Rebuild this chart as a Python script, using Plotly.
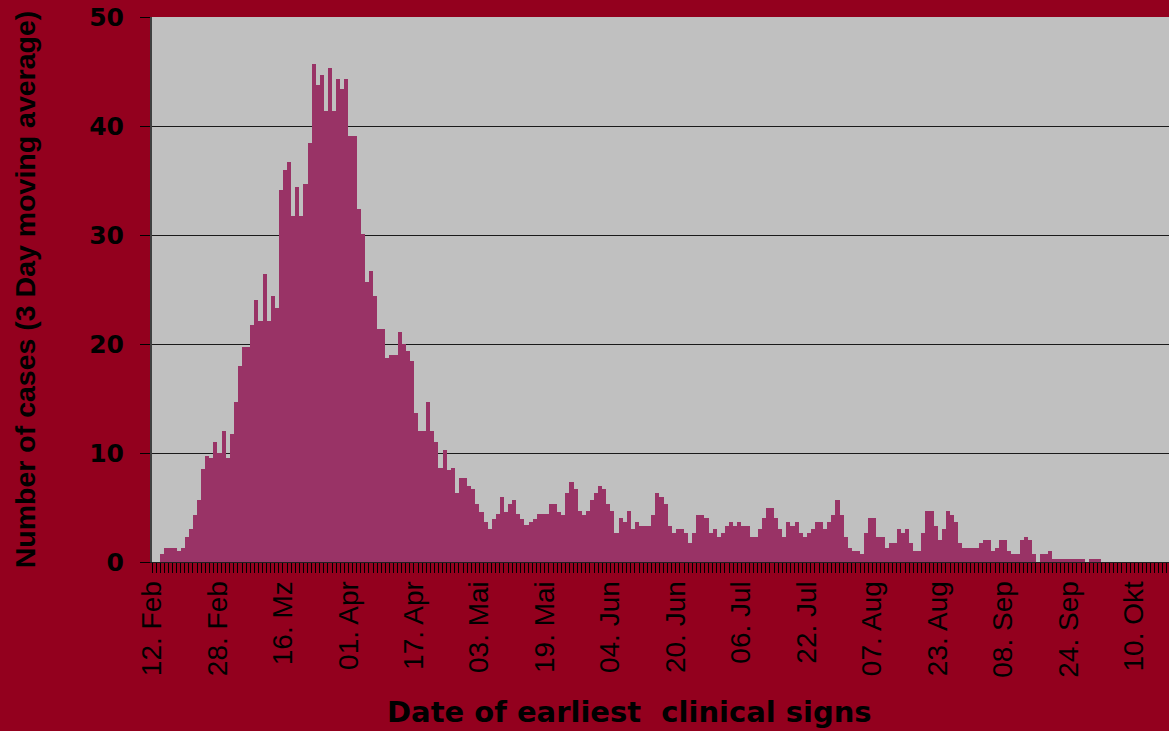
import pandas as pd
import plotly.graph_objects as go

# 3-day moving average of daily cases, one value per day starting 12 Feb 2001
feb = [0, 0, 0.7, 1.3, 1.3, 1.3, 1.0, 1.3, 2.3, 3.0, 4.3, 5.7, 8.5, 9.7, 9.5, 11.0, 10.0]
mar = [12.0, 9.5, 11.7, 14.7, 18.0, 19.7, 19.7, 21.7, 24.0, 22.1, 26.4, 22.1, 24.4, 23.3, 34.1, 36.0,
       36.7, 31.7, 34.4, 31.7, 34.7, 38.4, 45.7, 43.8, 44.7, 41.4, 45.3, 41.4, 44.3, 43.4, 44.3]
apr = [39.1, 39.1, 32.4, 30.1, 25.7, 26.7, 24.4, 21.4, 21.4, 18.7, 19.0, 19.0, 21.1, 20.0, 19.4,
       18.4, 13.7, 12.0, 12.0, 14.7, 12.0, 11.0, 8.6, 10.3, 8.4, 8.6, 6.3, 7.7, 7.7, 7.0]
may = [6.7, 5.3, 4.6, 3.7, 3.0, 3.9, 4.4, 6.0, 4.6, 5.3, 5.7, 4.4, 3.9, 3.4, 3.7, 3.9, 4.4, 4.4,
       4.4, 5.3, 5.3, 4.6, 4.3, 6.3, 7.3, 6.7, 4.7, 4.3, 4.7, 5.7, 6.3]
jun = [7.0, 6.7, 5.3, 4.7, 2.7, 4.0, 3.7, 4.7, 3.0, 3.7, 3.3, 3.3, 3.3, 4.3, 6.3, 6.0, 5.3, 3.3,
       2.7, 3.0, 3.0, 2.7, 1.7, 2.7, 4.3, 4.3, 4.0, 2.7, 3.0, 2.3]
jul = [2.7, 3.3, 3.7, 3.3, 3.7, 3.3, 3.3, 2.3, 2.3, 3.0, 4.0, 5.0, 5.0, 4.0, 3.0, 2.3, 3.7, 3.3,
       3.7, 2.7, 2.3, 2.7, 3.0, 3.7, 3.7, 3.0, 3.7, 4.3, 5.7, 4.3, 2.3]
aug = [1.3, 1.0, 1.0, 0.7, 2.7, 4.0, 4.0, 2.3, 2.3, 1.3, 1.7, 1.7, 3.0, 2.7, 3.0, 1.7, 1.0, 1.0,
       2.7, 4.7, 4.7, 3.3, 2.0, 3.0, 4.7, 4.3, 3.7, 1.7, 1.3, 1.3, 1.3]
sep = [1.3, 1.7, 2.0, 2.0, 1.0, 1.3, 2.0, 2.0, 1.0, 0.7, 0.7, 2.0, 2.3, 2.0, 0.7, 0, 0.7, 0.7,
       1.0, 0.3, 0.3, 0.3, 0.3, 0.3, 0.3, 0.3, 0.3, 0, 0.3, 0.3]
okt = [0.3]

values = feb + mar + apr + may + jun + jul + aug + sep + okt
start_date = "2001-02-12"
end_date = "2001-10-18 12:00"
dates = pd.date_range(start_date, periods=len(values), freq="D")

tick_dates = ["2001-02-12", "2001-02-28", "2001-03-16", "2001-04-01", "2001-04-17", "2001-05-03",
              "2001-05-19", "2001-06-04", "2001-06-20", "2001-07-06", "2001-07-22", "2001-08-07",
              "2001-08-23", "2001-09-08", "2001-09-24", "2001-10-10"]
tick_labels = ["12. Feb", "28. Feb", "16. Mz", "01. Apr", "17. Apr", "03. Mai", "19. Mai", "04. Jun",
               "20. Jun", "06. Jul", "22. Jul", "07. Aug", "23. Aug", "08. Sep", "24. Sep", "10. Okt"]

BG = "#93001E"

fig = go.Figure(
    go.Bar(
        x=dates,
        y=values,
        xperiod=86400000,
        xperiodalignment="middle",
        marker=dict(color="#993366", line=dict(width=0)),
        hoverinfo="x+y",
    )
)

fig.update_layout(
    width=1169,
    height=731,
    margin=dict(l=152, r=0, t=17, b=169),
    paper_bgcolor=BG,
    plot_bgcolor="#C0C0C0",
    bargap=0,
    showlegend=False,
    font=dict(family="Liberation Sans, Arial, sans-serif", color="black"),
    xaxis=dict(
        type="date",
        range=[start_date, end_date],
        tickmode="array",
        tickvals=tick_dates,
        ticktext=tick_labels,
        tickangle=-90,
        tickfont=dict(family="Liberation Sans, Arial, sans-serif", size=28, color="black"),
        ticks="outside",
        ticklen=10,
        tickwidth=1,
        tickcolor="black",
        ticklabelstandoff=-3,
        minor=dict(dtick=86400000, tick0=start_date, ticks="outside", ticklen=10,
                   tickcolor="black", tickwidth=1, showgrid=False),
        showgrid=False,
        showline=True,
        linecolor="#202020",
        linewidth=1,
        zeroline=False,
        automargin=False,
    ),
    yaxis=dict(
        range=[0, 50],
        tickmode="linear",
        tick0=0,
        dtick=10,
        tickfont=dict(family="DejaVu Sans, Arial, sans-serif", size=25, color="black", weight="bold"),
        ticks="outside",
        ticklen=10,
        tickwidth=1,
        tickcolor="black",
        ticklabelstandoff=11,
        showgrid=True,
        gridcolor="#1a1a1a",
        gridwidth=1,
        showline=True,
        linecolor="#404040",
        linewidth=2,
        zeroline=False,
        automargin=False,
        title=dict(
            text="Number of cases (3 Day moving average)",
            font=dict(family="Liberation Sans, Arial, sans-serif", size=28.5, color="black", weight="bold"),
            standoff=45,
        ),
    ),
    annotations=[
        dict(
            text="Date of earliest\u00a0 clinical signs",
            xref="paper", yref="paper",
            x=0.47, y=-0.276,
            xanchor="center", yanchor="middle",
            showarrow=False,
            font=dict(family="DejaVu Sans, Arial, sans-serif", size=29, color="black", weight="bold"),
        )
    ],
)

fig.write_html("out.html", config={"displayModeBar": False},
               post_script="document.body.style.margin='0';")
